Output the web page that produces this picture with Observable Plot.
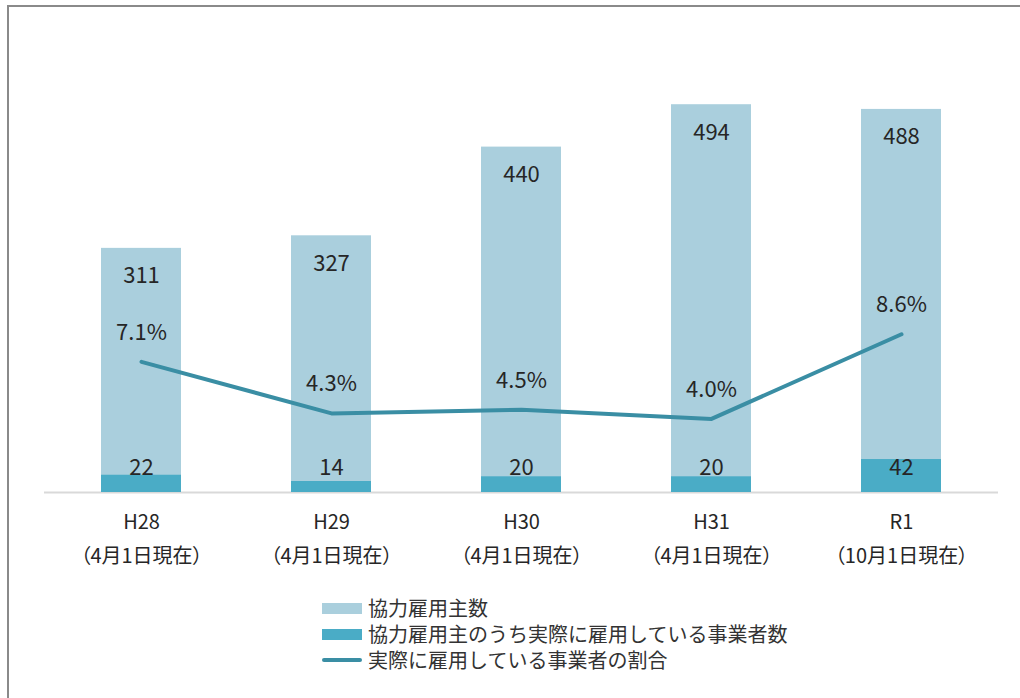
<!DOCTYPE html>
<html>
<head>
<meta charset="utf-8">
<script src="https://cdn.jsdelivr.net/npm/d3@7"></script>
<script src="https://cdn.jsdelivr.net/npm/@observablehq/plot@0.6"></script>
<style>
  html, body { margin: 0; padding: 0; background: #fff; overflow: hidden; }
  #wrap { position: relative; width: 1020px; height: 698px; overflow: hidden; font-family: "Noto Sans CJK JP", "Noto Sans", sans-serif; }
  #border { position: absolute; left: 7px; top: 5px; width: 1100px; height: 800px; border-top: 2px solid #8a8a8a; border-left: 2px solid #8a8a8a; pointer-events: none; }
  #chart svg { display: block; }
  #chart g[aria-label="x-axis tick label"] text { font-feature-settings: "palt"; }
  #legend { position: absolute; left: 322px; top: 595px; font-size: 20px; line-height: 26px; color: #333; }
  .row { display: flex; align-items: center; height: 26px; white-space: nowrap; }
  .sw { width: 40px; height: 11px; margin-right: 6px; }
  .ln { width: 40px; height: 4px; border-radius: 2px; margin-right: 6px; }
</style>
</head>
<body>
<div id="wrap">
  <div id="chart"></div>
  <div id="legend"></div>
  <div id="border"></div>
</div>
<script>
// ---- data ----
const years = ["H28", "H29", "H30", "H31", "R1"];
const dateLabels = ["（4月1日現在）", "（4月1日現在）", "（4月1日現在）", "（4月1日現在）", "（10月1日現在）"];
const employers = [311, 327, 440, 494, 488];          // 協力雇用主数
const employing = [22, 14, 20, 20, 42];               // 実際に雇用している事業者数
const ratio = [7.1, 4.3, 4.5, 4.0, 8.6];              // 割合 (%)
const seriesNames = ["協力雇用主数", "協力雇用主のうち実際に雇用している事業者数", "実際に雇用している事業者の割合"];

const colors = { light: "#aacfdd", dark: "#4aacc6", line: "#3a8ea4", text: "#262626" };

// secondary (percent) axis mapped onto primary axis
const yMax = 600;
const pctMax = 25.6;
const k = yMax / pctMax;

const data = years.map((y, i) => ({
  year: y, sub: dateLabels[i], total: employers[i], actual: employing[i], pct: ratio[i], pctY: ratio[i] * k
}));

const chart = Plot.plot({
  width: 1020,
  height: 590,
  marginLeft: 44,
  marginRight: 22,
  marginTop: 21,
  marginBottom: 98,
  style: { fontFamily: '"Noto Sans CJK JP", "Noto Sans", sans-serif', color: colors.text, background: "transparent" },
  x: { domain: years, paddingInner: 0.58, paddingOuter: 0.29, axis: null, label: null },
  y: { domain: [0, yMax], axis: null },
  marks: [
    Plot.ruleY([0], { stroke: "#d9d9d9", strokeWidth: 2 }),
    Plot.barY(data, { x: "year", y: "total", fill: colors.light }),
    Plot.barY(data, { x: "year", y: "actual", fill: colors.dark }),
    Plot.line(data, { x: "year", y: "pctY", stroke: colors.line, strokeWidth: 4, strokeLinecap: "round", strokeLinejoin: "round" }),
    Plot.text(data, { x: "year", y: "total", text: d => String(d.total), dy: 28, fontSize: 22, fill: colors.text }),
    Plot.text(data, { x: "year", y: 0, text: d => String(d.actual), dy: -25, fontSize: 22, fill: colors.text }),
    Plot.text(data, { x: "year", y: "pctY", text: d => d.pct.toFixed(1) + "%", dy: -29, fontSize: 22, fill: colors.text }),
    Plot.axisX({ tickSize: 0, tickPadding: 22, fontSize: 20, lineAnchor: "top", label: null, tickFormat: d => d, fill: colors.text }),
    Plot.axisX({ tickSize: 0, tickPadding: 56, fontSize: 20, lineAnchor: "top", label: null, tickFormat: d => dateLabels[years.indexOf(d)], fill: colors.text })
  ]
});
document.getElementById("chart").appendChild(chart);

// legend
const legend = document.getElementById("legend");
const kinds = [["sw", colors.light], ["sw", colors.dark], ["ln", colors.line]];
seriesNames.forEach((name, i) => {
  const row = document.createElement("div");
  row.className = "row";
  const sw = document.createElement("span");
  sw.className = kinds[i][0];
  sw.style.background = kinds[i][1];
  const t = document.createElement("span");
  t.textContent = name;
  row.appendChild(sw);
  row.appendChild(t);
  legend.appendChild(row);
});
</script>
</body>
</html>
